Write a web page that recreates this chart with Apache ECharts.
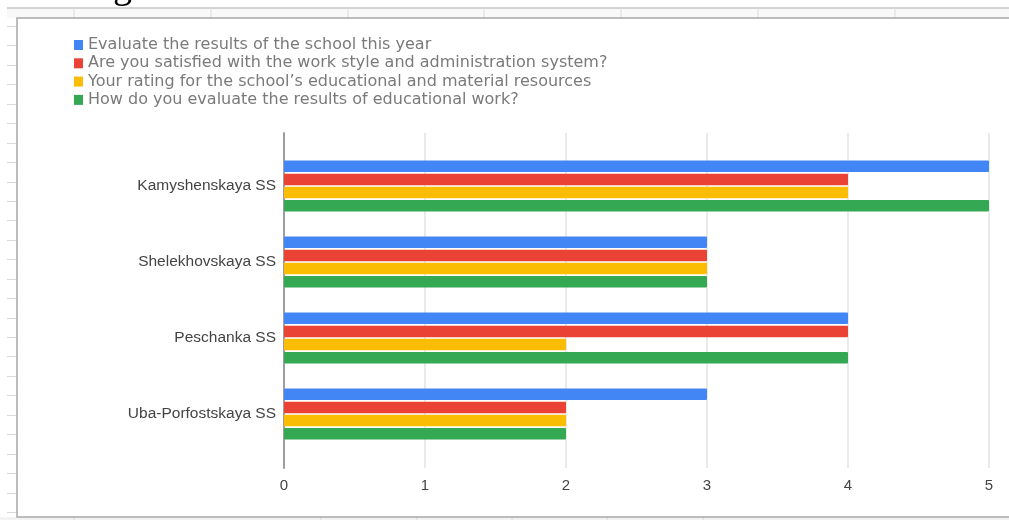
<!DOCTYPE html>
<html>
<head>
<meta charset="utf-8">
<script src="https://cdn.jsdelivr.net/npm/echarts@6/dist/echarts.min.js"></script>
<style>
html,body{margin:0;padding:0;background:#fff;}
#chart{width:1009px;height:520px;}
</style>
</head>
<body>
<div id="chart"></div>
<script>
// ---- data ----
var categories = ['Kamyshenskaya SS', 'Shelekhovskaya SS', 'Peschanka SS', 'Uba-Porfostskaya SS'];
var seriesNames = [
  'Evaluate the results of the school this year',
  'Are you satisfied with the work style and administration system?',
  'Your rating for the school\u2019s educational and material resources',
  'How do you evaluate the results of educational work?'
];
var evaluateResults = [5, 3, 4, 3];
var workStyle = [4, 3, 4, 2];
var resources = [4, 3, 2, 2];
var educationalWork = [5, 3, 4, 2];
var xTicks = [0, 1, 2, 3, 4, 5];
var colors = ['#4285F4', '#EA4335', '#FBBC04', '#34A853'];

// ---- spreadsheet backdrop decorations ----
var deco = [];
var lineGray = '#c6c6c6';
deco.push({type:'rect', shape:{x:7,y:8,width:1010,height:10}, style:{fill:'#f8f8f8', stroke:null}});
deco.push({type:'line', shape:{x1:7,y1:8,x2:1009,y2:8}, style:{stroke:lineGray, lineWidth:1.5}});
[74, 211, 348, 484, 621, 758, 895].forEach(function(x){
  deco.push({type:'line', shape:{x1:x,y1:8,x2:x,y2:18}, style:{stroke:'#dadada', lineWidth:1}});
});
for (var i = 0; i <= 25; i++) {
  var yy = Math.round(26 + i * 19.44) + 0.5;
  deco.push({type:'line', shape:{x1:7,y1:yy,x2:17,y2:yy}, style:{stroke:'#dadada', lineWidth:1}});
}
deco.push({type:'rect', shape:{x:0,y:517,width:1009,height:3}, style:{fill:'#f3f3f3'}});
[74, 321, 417, 512, 607, 703].forEach(function(x){
  deco.push({type:'line', shape:{x1:x,y1:517,x2:x,y2:520}, style:{stroke:'#dadada', lineWidth:1}});
});
// chart box border
deco.push({type:'polyline', shape:{points:[[1012,18],[17,18],[17,517],[1012,517]]}, style:{stroke:'#a8a8a8', lineWidth:1.5, fill:null}});
// cropped heading glyph at very top
deco.push({type:'text', left:113, top:-31, style:{text:'g', font:'38px "Liberation Serif"', fill:'#000'}});

var allSeries = [evaluateResults, workStyle, resources, educationalWork].map(function(vals, i){
  return {
    name: seriesNames[i],
    type: 'bar',
    xAxisIndex: 0,
    yAxisIndex: 0,
    data: vals,
    barWidth: 11.5,
    barGap: '15%',
    itemStyle: {color: colors[i], borderRadius: 1},
    emphasis: {disabled: true},
    animation: false
  };
});

var chart = echarts.init(document.getElementById('chart'), null, {renderer:'canvas'});
chart.setOption({
  backgroundColor: '#ffffff',
  animation: false,
  color: colors,
  legend: {
    orient: 'vertical',
    left: 74,
    top: 36,
    padding: 0,
    itemWidth: 9,
    itemHeight: 10,
    itemGap: 0.3,
    icon: 'rect',
    selectedMode: false,
    data: seriesNames,
    textStyle: {color:'#7a7a7a', fontFamily:'DejaVu Sans', fontSize:16, lineHeight:18}
  },
  grid: [
    {left:284, right:20, top:148, bottom:68},
    {left:284, right:20, top:133, bottom:52}
  ],
  xAxis: [
    {gridIndex:0, type:'value', min:0, max:5, interval:1, show:false},
    {gridIndex:1, type:'value', min:0, max:5, interval:1,
     axisLine:{show:false}, axisTick:{show:false},
     axisLabel:{color:'#444', fontFamily:'Liberation Sans', fontSize:15, margin:10,
       formatter:function(v){ return xTicks.indexOf(v) >= 0 ? String(v) : ''; }},
     splitLine:{show:true, lineStyle:{color:'#e3e3e3', width:1.5}}}
  ],
  yAxis: [
    {gridIndex:0, type:'category', data:categories, inverse:true,
     axisLine:{show:false}, axisTick:{show:false}, splitLine:{show:false},
     axisLabel:{color:'#444', fontFamily:'Liberation Sans', fontSize:15.5, margin:8}},
    {gridIndex:1, type:'value', min:0, max:1, show:true,
     axisLine:{show:true, lineStyle:{color:'#9e9e9e', width:2}},
     axisTick:{show:false}, axisLabel:{show:false}, splitLine:{show:false}}
  ],
  graphic: deco,
  series: allSeries
});
</script>
</body>
</html>
